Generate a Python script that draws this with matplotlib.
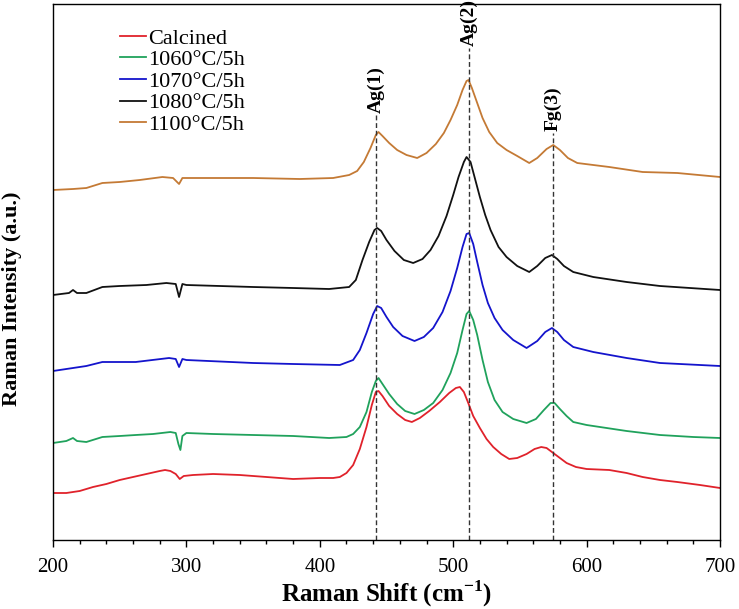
import numpy as np
import matplotlib
matplotlib.use('Agg')
import matplotlib.pyplot as plt
from matplotlib.ticker import MultipleLocator

plt.rcParams['font.family'] = ['Liberation Serif', 'DejaVu Serif']
plt.rcParams['mathtext.fontset'] = 'custom'
plt.rcParams['mathtext.rm'] = 'Liberation Serif'
plt.rcParams['mathtext.bf'] = 'Liberation Serif:bold'

# espectros (intensidade em unidades arbitrarias, curvas ja deslocadas)
x_calc = [200, 210, 220, 230, 240, 250, 260, 270, 280, 284, 288, 292, 295, 298, 305, 320, 340,
          360, 380, 400, 410, 415, 420, 425, 430, 435, 439, 442, 444, 447, 452, 458, 464, 469,
          475, 482, 490, 497, 502, 505, 508, 511, 515, 520, 525, 530, 536, 542, 548, 555, 561,
          566, 570, 575, 580, 585, 592, 600, 617, 630, 642, 655, 668, 685, 700]
y_calc = [47, 47, 49, 53, 56, 60, 63, 66, 69, 70, 69, 66, 61, 64, 65, 66, 65,
          63, 61, 62, 62, 63, 67, 75, 91, 113, 135, 148, 149, 144, 134, 126, 120, 118,
          122, 129, 138, 147, 152, 153, 148, 138, 124, 112, 101, 93, 86, 81, 82, 86, 91,
          93, 92, 87, 82, 77, 73, 71, 70, 67, 63, 60, 58, 55, 52]

x_1060 = [200, 210, 215, 218, 225, 237, 250, 262, 275, 288, 292, 294, 295.5, 297, 300, 320,
          350, 380, 407, 420, 425, 430, 435, 439, 442, 444, 447, 452, 458, 464, 471, 478, 485,
          492, 498, 503, 507, 510, 512, 515, 518, 522, 526, 531, 537, 545, 555, 562, 568, 573,
          576, 580, 585, 590, 600, 615, 630, 655, 680, 700]
y_1060 = [97, 99, 102, 99, 98, 103, 104, 105, 106, 108, 107, 96, 90, 104, 107, 106,
          105, 104, 102, 103, 106, 113, 128, 148, 159, 162, 156, 146, 136, 129, 126, 130, 137,
          150, 167, 187, 210, 226, 229, 220, 205, 180, 158, 140, 128, 121, 117, 121, 130, 137,
          137, 131, 124, 118, 115, 112, 109, 105, 103, 102]

x_1070 = [200, 215, 225, 237, 262, 287, 292, 294.5, 297, 300, 350, 380, 415, 425, 430, 435,
          440, 443, 446, 450, 455, 462, 471, 478, 485, 492, 498, 503, 507, 510, 512, 515, 518,
          522, 526, 531, 537, 545, 555, 563, 569, 574, 578, 583, 590, 605, 630, 655, 700]
y_1070 = [169, 172, 174, 178, 178, 182, 181, 173, 181, 180, 177, 176, 175, 180, 190, 207,
          226, 234, 232, 223, 213, 204, 199, 203, 212, 228, 249, 272, 293, 306, 307, 296, 278,
          255, 237, 222, 210, 200, 192, 199, 208, 212, 208, 200, 193, 188, 182, 177, 174]

x_1080 = [200, 212, 215, 218, 225, 237, 250, 270, 285, 292, 294.5, 297, 300, 350, 380, 407,
          422, 427, 432, 437, 441, 443, 446, 450, 456, 463, 470, 477, 483, 489, 495, 500, 504,
          508, 510, 513, 516, 520, 524, 528, 534, 540, 548, 557, 563, 569, 574, 578, 583, 590,
          605, 630, 655, 700]
y_1080 = [245, 247, 250, 247, 247, 253, 254, 255, 257, 256, 243, 256, 255, 253, 252, 251,
          253, 260, 280, 298, 310, 312, 309, 300, 289, 280, 277, 281, 290, 304, 324, 345, 363,
          378, 383, 378, 363, 343, 325, 310, 293, 283, 274, 268, 274, 282, 285, 281, 274, 268,
          263, 258, 254, 250]

x_1100 = [200, 215, 225, 237, 250, 265, 282, 290, 294.5, 297, 300, 350, 385, 410, 422, 428,
          433, 438, 442, 444, 447, 452, 458, 465, 473, 480, 487, 493, 498, 503, 507, 510, 511.5,
          514, 518, 522, 527, 533, 540, 548, 557, 563, 570, 575, 580, 586, 593, 605, 617, 642,
          668, 700]
y_1100 = [350, 351, 352, 357, 358, 360, 363, 362, 356, 362, 362, 362, 361, 362, 365, 369,
          378, 392, 405, 408, 404, 397, 390, 385, 382, 387, 396, 407, 420, 435, 450, 459, 460,
          452, 437, 422, 408, 397, 390, 384, 377, 382, 391, 395, 390, 382, 377, 375, 373, 368,
          367, 363]

nomes = ['Calcined', '1060°C/5h', '1070°C/5h', '1080°C/5h', '1100°C/5h']
cores = ['#e0222b', '#20a25c', '#1414cc', '#111111', '#c47a35']

# modos raman
picos = [442, 512, 575]
picos_nome = ['Ag(1)', 'Ag(2)', 'Fg(3)']
picos_topo = [427, 494, 409]

fig = plt.figure(figsize=(7.39, 6.09), dpi=100)
ax = fig.add_axes([53/739, 69/609, 667/739, 536/609])

series = [(x_calc, y_calc), (x_1060, y_1060), (x_1070, y_1070), (x_1080, y_1080), (x_1100, y_1100)]
for (xs, ys), nome, cor in zip(series, nomes, cores):
    ax.plot(xs, ys, color=cor, lw=1.3, label=nome)

for p, nome, topo in zip(picos, picos_nome, picos_topo):
    ax.plot([p, p], [0, topo - 2], color='#333333', lw=1, ls=(0, (3.5, 2)))
    ax.text(p, topo, nome, rotation=90, ha='center', va='bottom', fontsize=14, fontweight='bold')

ax.set_xlim(200, 700)
ax.set_ylim(0, 536)
ax.set_yticks([])
ax.xaxis.set_major_locator(MultipleLocator(100))
ax.xaxis.set_minor_locator(MultipleLocator(20))
ax.tick_params(axis='x', which='major', direction='out', length=5, width=1, labelsize=15, pad=8)
ax.tick_params(axis='x', which='minor', direction='out', length=3, width=1)
for s in ax.spines.values():
    s.set_linewidth(1)

ax.set_xlabel('Raman Shift (cm$^{\\mathbf{-1}}$)', fontsize=18, fontweight='bold', labelpad=1)
ax.set_ylabel('Raman Intensity (a.u.)', fontsize=16, fontweight='bold')
ax.yaxis.set_label_coords(-0.046, 0.45)

ax.legend(loc='upper left', bbox_to_anchor=(0.1, 0.955), frameon=False, fontsize=16,
          handlelength=1.2, handletextpad=0.1, labelspacing=0.045, borderpad=0, borderaxespad=0)

plt.savefig('out.png', dpi=100)
